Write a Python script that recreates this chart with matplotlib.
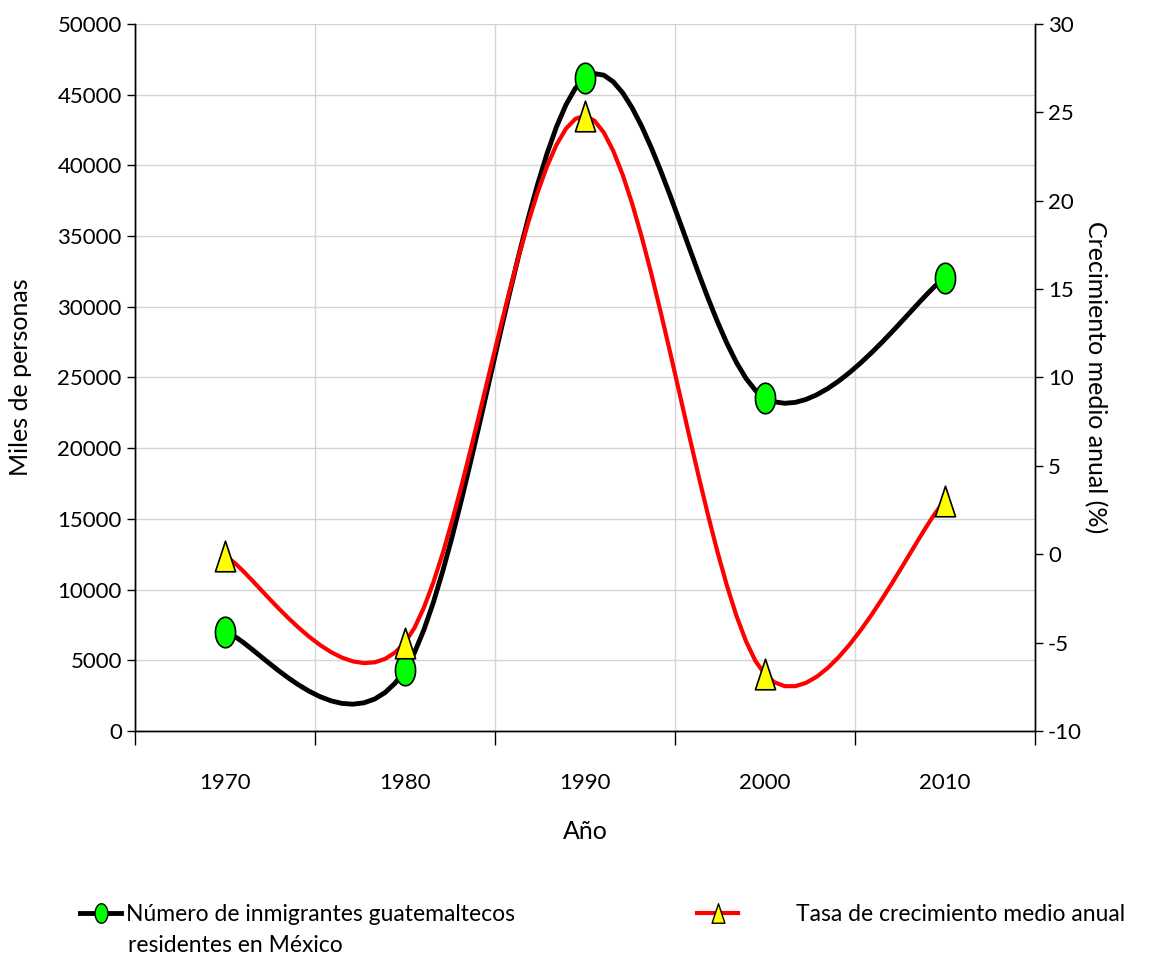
import numpy as np
import matplotlib
matplotlib.use('Agg')
import matplotlib.pyplot as plt
from matplotlib.path import Path
from matplotlib.lines import Line2D

plt.rcParams['font.family'] = ['Lato', 'DejaVu Sans']
plt.rcParams['axes.unicode_minus'] = False

years = ['1970', '1980', '1990', '2000', '2010']
inmigrantes = [7000, 4300, 46200, 23550, 32050]      # miles de personas
tasa = [-0.1, -5.0, 24.8, -6.8, 3.0]                  # crecimiento medio anual (%)


def smooth(x, y, n=20):
    # bezier spline through the points, like the spreadsheet "smoothed line"
    x = np.asarray(x, float)
    y = np.asarray(y, float)
    px = np.concatenate([[x[0]], x, [x[-1]]])
    py = np.concatenate([[y[0]], y, [y[-1]]])
    xs, ys = [], []
    t = np.linspace(0, 1, n)
    for i in range(len(x) - 1):
        p0 = (px[i + 1], py[i + 1])
        p3 = (px[i + 2], py[i + 2])
        c1 = (p0[0] + (px[i + 2] - px[i]) / 6, p0[1] + (py[i + 2] - py[i]) / 6)
        c2 = (p3[0] - (px[i + 3] - px[i + 1]) / 6, p3[1] - (py[i + 3] - py[i + 1]) / 6)
        for a, b in [(0, xs), (1, ys)]:
            b.extend((1 - t) ** 3 * p0[a] + 3 * (1 - t) ** 2 * t * c1[a]
                     + 3 * (1 - t) * t ** 2 * c2[a] + t ** 3 * p3[a])
    return np.array(xs), np.array(ys)


# tall ellipse and tall triangle markers
th = np.linspace(0, 2 * np.pi, 40)
ellipse = Path(np.column_stack([0.66 * np.cos(th), np.sin(th)]))
triangle = Path([(-0.66, -1), (0.66, -1), (0, 1), (-0.66, -1)],
                [Path.MOVETO, Path.LINETO, Path.LINETO, Path.CLOSEPOLY])

fig = plt.figure(figsize=(11.64, 9.56), dpi=100)
ax = fig.add_axes([0.116, 0.2354, 0.773, 0.7395])
ax2 = ax.twinx()

x = np.arange(len(years))

sx, sy = smooth(x, inmigrantes)
ax.plot(sx, sy, color='black', lw=3.5, solid_capstyle='butt', zorder=3)
ax.plot(x, inmigrantes, ls='none', marker=ellipse, ms=22, mfc='#00ff00',
        mec='black', mew=1.2, zorder=4)

sx, sy = smooth(x, tasa)
ax2.plot(sx, sy, color='red', lw=3, solid_capstyle='butt', zorder=3)
ax2.plot(x, tasa, ls='none', marker=triangle, ms=22, mfc='yellow',
         mec='black', mew=1.2, zorder=4)

ax.set_xlim(-0.5, len(years) - 0.5)
ax.set_ylim(0, 50000)
ax.set_yticks(np.arange(0, 50001, 5000))
ax2.set_ylim(-10, 30)
ax2.set_yticks(np.arange(-10, 31, 5))

ax.set_xticks(np.arange(-0.5, len(years), 1))
ax.set_xticklabels([])
ax.set_xticks(x, minor=True)
ax.set_xticklabels(years, minor=True)
ax.tick_params(axis='x', which='major', direction='out', length=10, width=1)
ax.tick_params(axis='x', which='minor', length=0, pad=30, labelsize=16)
ax.tick_params(axis='y', direction='out', length=6, width=1, labelsize=16)
ax2.tick_params(axis='y', direction='out', length=6, width=1, labelsize=16)

ax.grid(True, which='major', color='#d4d4d4', lw=1)
ax.set_axisbelow(True)

for a in (ax, ax2):
    a.spines['top'].set_visible(False)
    for s in ('left', 'right', 'bottom'):
        a.spines[s].set_color('black')
        a.spines[s].set_linewidth(1)

ax.set_xlabel('Año', fontsize=18, labelpad=20)
ax.set_ylabel('Miles de personas', fontsize=18, labelpad=18)
ax2.set_ylabel('Crecimiento medio anual (%)', fontsize=18, rotation=270, labelpad=18)

h1 = Line2D([], [], color='black', lw=3.5, marker=ellipse, ms=14,
            mfc='#00ff00', mec='black', mew=1)
h2 = Line2D([], [], color='red', lw=3, marker=triangle, ms=14,
            mfc='yellow', mec='black', mew=1)
fig.legend([h1], ['Número de inmigrantes guatemaltecos'],
           loc='center left', bbox_to_anchor=(0.0687, 0.0429), frameon=False,
           fontsize=16.5, handlelength=1.8, handletextpad=0.2, borderpad=0,
           borderaxespad=0)
fig.text(0.11, 0.0115, 'residentes en México', fontsize=16.5, va='center')
fig.legend([h2], ['Tasa de crecimiento medio anual'],
           loc='center left', bbox_to_anchor=(0.599, 0.0429), frameon=False,
           fontsize=16.5, handlelength=1.8, handletextpad=2.5, borderpad=0,
           borderaxespad=0)

fig.savefig('out.png', dpi=100)
